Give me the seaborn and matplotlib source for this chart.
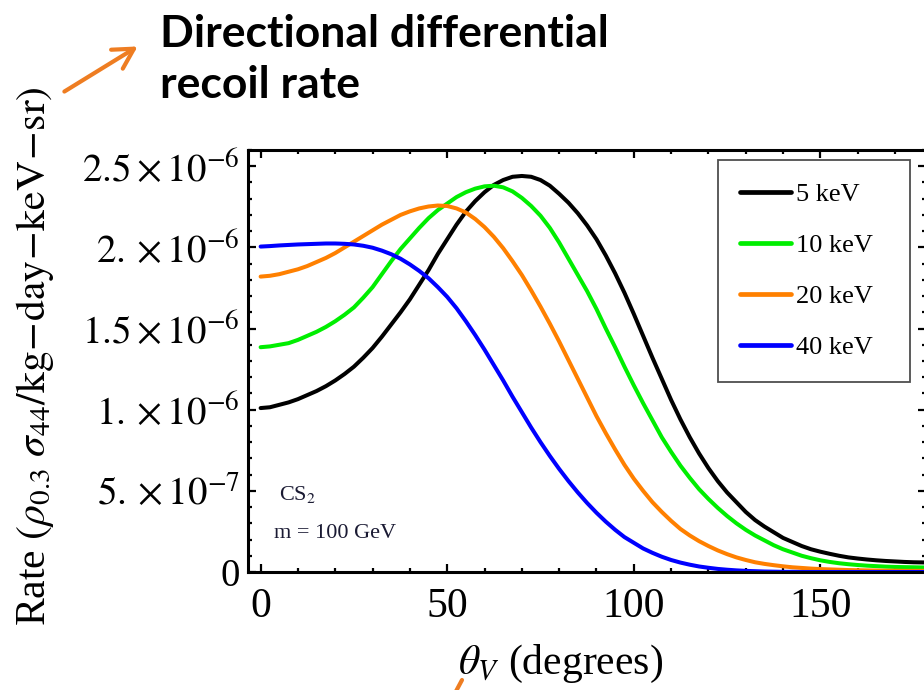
import numpy as np
import pandas as pd
import matplotlib
matplotlib.use("Agg")
import matplotlib.pyplot as plt
import seaborn as sns
from matplotlib.ticker import MultipleLocator, FixedLocator, FixedFormatter

# ---------------- data (rate in units of 1e-6), theta every 2.5 degrees ----------------
theta_deg = [i * 2.5 for i in range(73)]
rate_5keV = [1.01, 1.015, 1.03, 1.045, 1.065, 1.09, 1.115, 1.145,
             1.18, 1.22, 1.265, 1.32, 1.38, 1.45, 1.525, 1.60,
             1.68, 1.77, 1.86, 1.96, 2.05, 2.14, 2.22, 2.285,
             2.34, 2.385, 2.415, 2.435, 2.44, 2.435, 2.415, 2.38,
             2.33, 2.275, 2.21, 2.135, 2.05, 1.95, 1.84, 1.72,
             1.59, 1.455, 1.32, 1.19, 1.06, 0.94, 0.83, 0.73,
             0.64, 0.56, 0.49, 0.43, 0.37, 0.32, 0.28, 0.245,
             0.21, 0.185, 0.16, 0.14, 0.125, 0.112, 0.10, 0.09,
             0.083, 0.077, 0.072, 0.068, 0.065, 0.062, 0.06, 0.059,
             0.058]
rate_10keV = [1.385, 1.39, 1.40, 1.41, 1.43, 1.455, 1.48, 1.51,
              1.545, 1.585, 1.63, 1.69, 1.755, 1.835, 1.915, 1.99,
              2.055, 2.12, 2.18, 2.23, 2.27, 2.31, 2.34, 2.362,
              2.376, 2.38, 2.37, 2.345, 2.305, 2.255, 2.195, 2.12,
              2.03, 1.93, 1.83, 1.73, 1.62, 1.50, 1.385, 1.265,
              1.15, 1.04, 0.935, 0.83, 0.74, 0.655, 0.58, 0.51,
              0.45, 0.395, 0.345, 0.30, 0.26, 0.225, 0.195, 0.165,
              0.14, 0.12, 0.10, 0.085, 0.072, 0.062, 0.054, 0.048,
              0.043, 0.039, 0.036, 0.033, 0.031, 0.03, 0.029, 0.028,
              0.028]
rate_20keV = [1.82, 1.825, 1.835, 1.85, 1.865, 1.885, 1.91, 1.935,
              1.965, 2.00, 2.035, 2.07, 2.105, 2.14, 2.17, 2.20,
              2.222, 2.24, 2.252, 2.258, 2.255, 2.24, 2.215, 2.175,
              2.125, 2.065, 1.995, 1.915, 1.83, 1.735, 1.635, 1.53,
              1.42, 1.305, 1.19, 1.075, 0.96, 0.855, 0.755, 0.66,
              0.575, 0.50, 0.43, 0.37, 0.315, 0.265, 0.225, 0.19,
              0.16, 0.133, 0.11, 0.09, 0.074, 0.06, 0.05, 0.042,
              0.035, 0.029, 0.025, 0.021, 0.018, 0.016, 0.014, 0.012,
              0.011, 0.01, 0.009, 0.008, 0.008, 0.007, 0.007, 0.007,
              0.007]
rate_40keV = [2.005, 2.008, 2.012, 2.015, 2.018, 2.02, 2.022, 2.024,
              2.024, 2.022, 2.018, 2.01, 1.998, 1.98, 1.958, 1.93,
              1.895, 1.855, 1.81, 1.755, 1.695, 1.625, 1.545, 1.46,
              1.37, 1.275, 1.18, 1.08, 0.985, 0.89, 0.80, 0.715,
              0.635, 0.56, 0.49, 0.425, 0.365, 0.31, 0.26, 0.215,
              0.18, 0.145, 0.118, 0.094, 0.074, 0.058, 0.045, 0.034,
              0.026, 0.019, 0.014, 0.01, 0.007, 0.005, 0.003, 0.002,
              0.001, 0.001, 0.0, 0.0, 0.0, 0.0, 0.0, 0.0,
              0.0, 0.0, 0.0, 0.0, 0.0, 0.0, 0.0, 0.0,
              0.0]
energy_labels = ["5 keV", "10 keV", "20 keV", "40 keV"]
series = [rate_5keV, rate_10keV, rate_20keV, rate_40keV]
line_colors = ["#000000", "#00ee00", "#ff8000", "#0000ff"]

ytick_vals = [0, 0.5e-6, 1.0e-6, 1.5e-6, 2.0e-6, 2.5e-6]
ytick_labels = ["0", r"$5.\times10^{-7}$", r"$1.\times10^{-6}$",
                r"$1.5\times10^{-6}$", r"$2.\times10^{-6}$", r"$2.5\times10^{-6}$"]
xtick_vals = [0, 50, 100, 150]

frames = []
for lab, vals in zip(energy_labels, series):
    frames.append(pd.DataFrame({"theta": theta_deg,
                                "rate": np.array(vals) * 1e-6,
                                "energy": lab}))
df = pd.concat(frames, ignore_index=True)

# ---------------- style ----------------
sns.set_theme(style="ticks")
plt.rcParams["font.family"] = ["Liberation Serif", "DejaVu Serif"]
plt.rcParams["mathtext.fontset"] = "stix"
for k in ["text.color", "axes.labelcolor", "xtick.color", "ytick.color"]:
    plt.rcParams[k] = "black"

W, H = 924, 690
fig = plt.figure(figsize=(W / 100, H / 100), dpi=100)
fig.patch.set_facecolor("white")

def px(x, y):
    return x / W, 1 - y / H

left, right, top, bottom = 248.3, 926.0, 150.0, 572.0
ax = fig.add_axes([left / W, 1 - bottom / H, (right - left) / W, (bottom - top) / H])

sns.lineplot(data=df, x="theta", y="rate", hue="energy",
             palette=dict(zip(energy_labels, line_colors)),
             hue_order=energy_labels, linewidth=2.9, ax=ax, legend=True)

ax.set_xlim(-3.3, 178.3)
ax.set_ylim(0, 2.6e-6)

for s in ax.spines.values():
    s.set_linewidth(2.2)
    s.set_color("black")

ax.xaxis.set_major_locator(FixedLocator(xtick_vals))
ax.xaxis.set_minor_locator(MultipleLocator(10))
ax.yaxis.set_major_locator(FixedLocator(ytick_vals))
ax.yaxis.set_major_formatter(FixedFormatter(ytick_labels))
ax.yaxis.set_minor_locator(MultipleLocator(0.1e-6))
ax.tick_params(which="both", direction="in", top=True, right=True, color="black")
ax.tick_params(which="major", length=6, width=1.6)
ax.tick_params(which="minor", length=3, width=1.6)
ax.tick_params(axis="x", which="major", labelsize=30, pad=11)
ax.tick_params(axis="y", which="major", labelsize=28, pad=6)
ax.set_xlabel("")
ax.set_ylabel("")

# legend (box spans about x 718-910, y 160-387 px)
lx0 = (718 - left) / (right - left)
lx1 = (910 - left) / (right - left)
ly1 = (bottom - 160) / (bottom - top)
ly0 = (bottom - 387) / (bottom - top)
leg = ax.legend(loc="upper left", bbox_to_anchor=(lx0, ly0, lx1 - lx0, ly1 - ly0),
                mode="expand", borderaxespad=0,
                fontsize=19, frameon=True, fancybox=False, handlelength=1.9,
                handletextpad=0.2, labelspacing=1.05, borderpad=0.85)
leg.get_frame().set_edgecolor("#222222")
leg.get_frame().set_linewidth(1.3)
for h in leg.get_lines():
    h.set_linewidth(3.4)

# inner annotations
ax.text(0.045, 0.17, r"CS$_2$", transform=ax.transAxes, fontsize=16, color="#1a1a33")
ax.text(0.038, 0.08, "m = 100 GeV", transform=ax.transAxes, fontsize=16, color="#1a1a33")

# axis labels
fig.text(*px(35, 356),
         r"Rate $(\rho_{0.3}\ \sigma_{44}/\mathrm{kg}\!-\!\mathrm{day}\!-\!\mathrm{keV}\!-\!\mathrm{sr})$",
         rotation=90, ha="center", va="center", fontsize=30)
fig.text(*px(561, 664), r"$\theta_V$ (degrees)", ha="center", va="center", fontsize=30)

# slide annotation
fig.text(*px(160, 47), "Directional differential", fontfamily=["Lato", "DejaVu Sans"],
         fontweight="bold", fontsize=32, ha="left", va="baseline", color="black")
fig.text(*px(160, 98), "recoil rate", fontfamily=["Lato", "DejaVu Sans"],
         fontweight="bold", fontsize=32, ha="left", va="baseline", color="black")
fig.patches.append(matplotlib.patches.FancyArrowPatch(
    px(62, 93), px(140, 45), transform=fig.transFigure, arrowstyle="->,head_length=9,head_width=5",
    color="#ee7d22", linewidth=3, mutation_scale=1.6))
fig.lines.append(matplotlib.lines.Line2D([454 / W, 462 / W], [1 - 695 / H, 1 - 680 / H],
                                         transform=fig.transFigure, color="#ee7d22", linewidth=3))

fig.savefig("out.png", dpi=100, facecolor="white")
